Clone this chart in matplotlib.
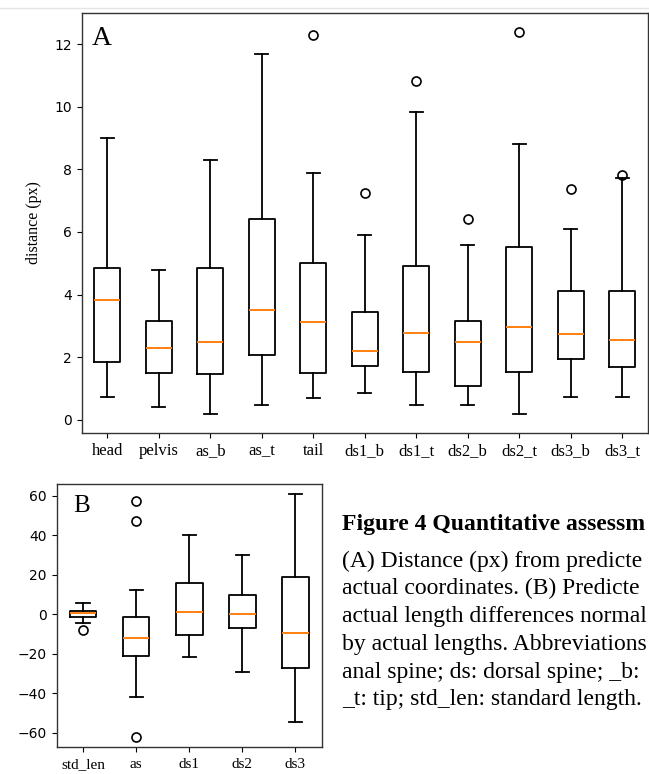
import matplotlib
matplotlib.use('Agg')
import matplotlib.pyplot as plt
from matplotlib.lines import Line2D

# ---------------- data: panel A (distance, px) ----------------
a_labels = ['head', 'pelvis', 'as_b', 'as_t', 'tail', 'ds1_b', 'ds1_t',
            'ds2_b', 'ds2_t', 'ds3_b', 'ds3_t']
a_whislo = [0.72, 0.40, 0.18, 0.45, 0.70, 0.84, 0.45, 0.47, 0.18, 0.72, 0.72]
a_q1 = [1.83, 1.49, 1.45, 2.07, 1.49, 1.70, 1.52, 1.08, 1.52, 1.95, 1.67]
a_med = [3.82, 2.29, 2.47, 3.49, 3.13, 2.19, 2.77, 2.47, 2.95, 2.74, 2.55]
a_q3 = [4.85, 3.16, 4.85, 6.40, 5.02, 3.43, 4.92, 3.16, 5.52, 4.10, 4.10]
a_whishi = [9.00, 4.78, 8.30, 11.70, 7.89, 5.89, 9.83, 5.59, 8.81, 6.10, 7.72]
a_fliers = [[], [], [], [], [12.29], [7.24], [10.84], [6.43], [12.41], [7.38], [7.81]]

# ---------------- data: panel B (normalized length difference) ----------------
b_labels = ['std_len', 'as', 'ds1', 'ds2', 'ds3']
b_whislo = [-4.5, -42.0, -21.4, -29.2, -54.7]
b_q1 = [-1.2, -21.3, -10.7, -6.7, -27.0]
b_med = [0.5, -11.8, 1.0, 0.3, -9.5]
b_q3 = [1.8, -1.4, 15.9, 9.6, 18.9]
b_whishi = [6.0, 12.2, 40.0, 30.0, 60.8]
b_fliers = [[-7.9], [57.3, 47.5, -61.9], [], [], []]

# caption text as visible in the (cropped) reference
caption_title = 'Figure 4 Quantitative assessm'
caption_lines = [
    '(A) Distance (px) from predicte',
    'actual coordinates. (B) Predicte',
    'actual length differences normal',
    'by actual lengths. Abbreviations',
    'anal spine; ds: dorsal spine; _b:',
    '_t: tip; std_len: standard length.',
]

SERIF = 'Liberation Serif'
W, H = 649, 774
fig = plt.figure(figsize=(W / 100, H / 100), dpi=100)
fig.patch.set_facecolor('white')


def stats(lo, q1, med, q3, hi, fl):
    return [dict(whislo=a, q1=b, med=c, q3=d, whishi=e, fliers=f)
            for a, b, c, d, e, f in zip(lo, q1, med, q3, hi, fl)]


def px_axes(left, top, right, bottom):
    return fig.add_axes([left / W, 1 - bottom / H, (right - left) / W, (bottom - top) / H])


medprops = dict(color='#ff7f0e', linewidth=1.4)
boxprops = dict(color='black', linewidth=1.3)
whiskerprops = dict(color='black', linewidth=1.3)
capprops = dict(color='black', linewidth=1.3)
flierprops = dict(marker='o', markerfacecolor='none', markeredgecolor='black',
                  markersize=6.5, markeredgewidth=1.2)

# ---------------- Panel A ----------------
axA = px_axes(81.5, 12.5, 648, 433)
axA.bxp(stats(a_whislo, a_q1, a_med, a_q3, a_whishi, a_fliers),
        medianprops=medprops, boxprops=boxprops, whiskerprops=whiskerprops,
        capprops=capprops, flierprops=flierprops, widths=0.5)
axA.set_xticks(range(1, len(a_labels) + 1))
axA.set_xticklabels(a_labels, fontfamily=SERIF, fontsize=12)
axA.set_ylim(-0.43, 13.02)
axA.set_yticks([0, 2, 4, 6, 8, 10, 12])
axA.tick_params(axis='y', labelsize=10)
axA.set_ylabel('distance (px)', fontfamily=SERIF, fontsize=11.5)
axA.yaxis.set_label_coords(-0.07, 0.5)
axA.text(92 / W, 1 - 45 / H, 'A', transform=fig.transFigure, fontfamily=SERIF,
         fontsize=20, va='baseline', ha='left')
for s in axA.spines.values():
    s.set_color('#333333')
    s.set_linewidth(1.0)

# ---------------- Panel B ----------------
axB = px_axes(56.5, 483.5, 322, 747)
axB.bxp(stats(b_whislo, b_q1, b_med, b_q3, b_whishi, b_fliers),
        medianprops=medprops, boxprops=boxprops, whiskerprops=whiskerprops,
        capprops=capprops, flierprops=flierprops, widths=0.5)
axB.set_xticks(range(1, len(b_labels) + 1))
axB.set_xticklabels(b_labels, fontfamily=SERIF, fontsize=11)
axB.tick_params(axis='x', pad=4.5)
axB.set_ylim(-67.2, 66.3)
axB.set_yticks([-60, -40, -20, 0, 20, 40, 60])
axB.tick_params(axis='y', labelsize=10)
axB.text(73 / W, 1 - 512 / H, 'B', transform=fig.transFigure, fontfamily=SERIF,
         fontsize=18, va='baseline', ha='left')
for s in axB.spines.values():
    s.set_color('#333333')
    s.set_linewidth(1.0)

# ---------------- caption ----------------
x0 = 342 / W
fig.text(x0, 1 - 530 / H, caption_title, fontfamily=SERIF, fontweight='bold',
         fontsize=17, va='baseline', ha='left')
y = 566.5
for line in caption_lines:
    fig.text(x0, 1 - y / H, line, fontfamily=SERIF, fontsize=17,
             va='baseline', ha='left')
    y += 27.8

# faint screenshot border line at the top
fig.add_artist(Line2D([0, 1], [1 - 7.5 / H] * 2, transform=fig.transFigure,
                      color='#e4e4e4', linewidth=1))

fig.savefig('out.png', dpi=100, facecolor='white')
